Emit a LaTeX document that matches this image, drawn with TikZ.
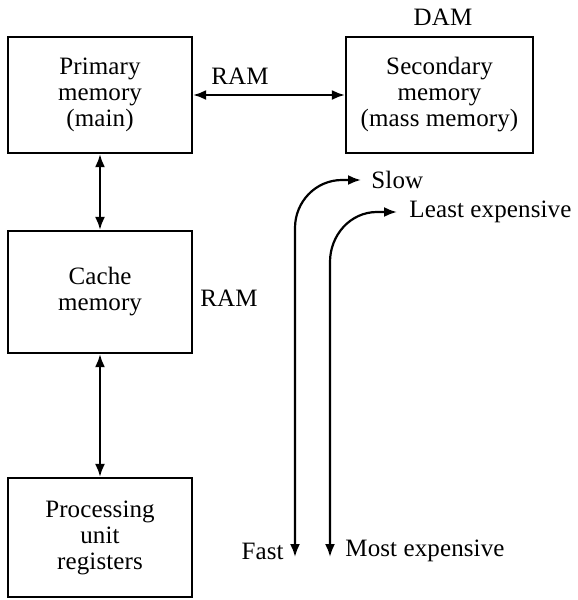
\documentclass[tikz,border=0pt]{standalone}
\usepackage{fontspec}
\setmainfont{Liberation Serif}[LetterSpace=0.5]
\usetikzlibrary{arrows.meta}

\begin{document}
\begin{tikzpicture}[x=0.5pt, y=-0.5pt]
  \tikzset{
    mem_box/.style={draw, line width=1.1pt, minimum width=92pt, inner sep=0pt, align=center, font=\fontsize{12.5}{13}\selectfont},
    plain_label/.style={inner sep=0pt, font=\fontsize{12.5}{13}\selectfont},
    dbl_arrow/.style={line width=1.1pt, {Latex[length=6.5pt, width=5pt]}-{Latex[length=6.5pt, width=5pt]}}
  }

  % Marco de la figura
  \useasboundingbox (0,0) rectangle (578,600);

  % Niveles de memoria
  \node[mem_box, minimum height=58pt] (primary) at (100,95) {Primary\\memory\\(main)};
  \node[mem_box, minimum height=58pt, minimum width=93.5pt] (secondary) at (439.5,95) {Secondary\\memory\\(mass memory)};
  \node[mem_box, minimum height=61pt] (cache) at (100,292) {Cache\\memory};
  \node[mem_box, minimum height=59.5pt] (registers) at (100,537.5) {Processing\\unit\\registers};

  % Tipos de acceso
  \node[plain_label] (ram_top) at (240,76) {RAM};
  \node[plain_label] (dam) at (443,17) {DAM};
  \node[plain_label] (ram_cache) at (229,298) {RAM};

  % Conexiones entre niveles
  \draw[dbl_arrow] (primary) -- (secondary);
  \draw[dbl_arrow] (primary) -- (cache);
  \draw[dbl_arrow] (cache) -- (registers);

  % Etiquetas de velocidad y coste
  \node[plain_label, anchor=west] (slow) at (371,180) {Slow};
  \node[plain_label, anchor=west] (least) at (409,212) {Least expensive};
  \node[plain_label, anchor=east] (fast) at (284,551) {Fast};
  \node[plain_label, anchor=west] (most) at (345,551) {Most expensive};

  % Extremos de las flechas curvas
  \coordinate (fast_end) at (295,557);
  \coordinate (slow_end) at (361,180);
  \coordinate (most_end) at (330,557);
  \coordinate (least_end) at (397,212);

  % Flechas curvas
  \draw[dbl_arrow] (fast_end) -- (295,228) to[out=90, in=180] (342,180) -- (slow_end);
  \draw[dbl_arrow] (most_end) -- (330,262) to[out=90, in=180] (377,212) -- (least_end);
\end{tikzpicture}
\end{document}
